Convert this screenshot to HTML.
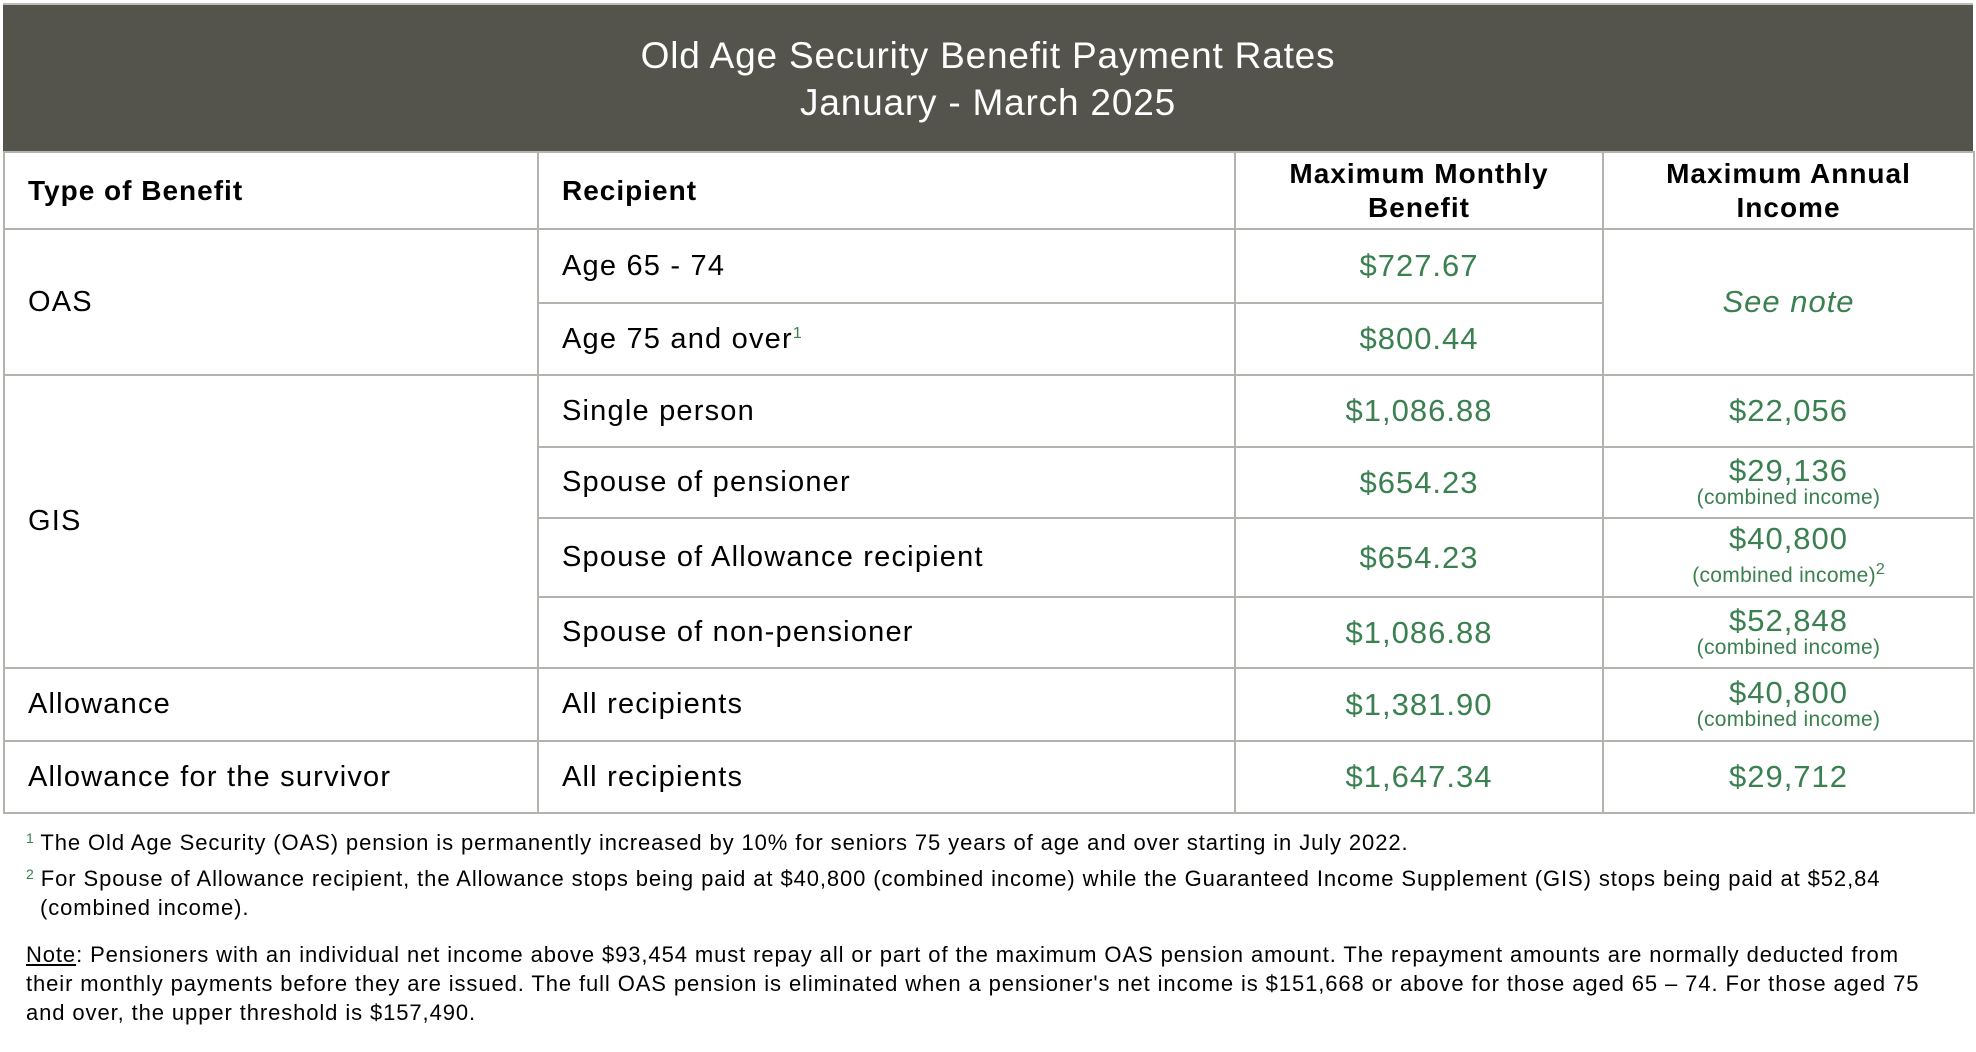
<!DOCTYPE html>
<html><head><meta charset="utf-8"><style>
html,body{margin:0;padding:0;background:#fff;width:1976px;height:1052px;overflow:hidden;font-family:"Liberation Sans",Arial,sans-serif;color:#000}
.wrap{position:absolute;left:3px;top:3px;width:1970px}
.title{height:148px;background:#54544c;color:#fff;text-align:center;font-size:37px;letter-spacing:0.8px;line-height:47px;box-sizing:border-box;padding-top:27px;border-top:2px solid #bdbdb8}
table{border-collapse:collapse;width:1970px;table-layout:fixed}
td{border:2px solid #b4b4ae;font-size:29px;letter-spacing:1.2px;padding:0 0 0 23px;vertical-align:middle;white-space:nowrap}
td.c{text-align:center;padding:0;color:#3a8050;font-size:31px;letter-spacing:1px}
th{border:2px solid #b4b4ae;font-size:28px;letter-spacing:1px;font-weight:bold;text-align:left;padding-left:23px}
th.c{text-align:center;padding:0;line-height:34px}
.sub{font-size:21px;letter-spacing:0.3px;display:block;line-height:24px}
sup{font-size:16px;color:#3a8050;vertical-align:10px;line-height:0;letter-spacing:0}
.fn{position:absolute;left:26px;font-size:22px;letter-spacing:0.9px;line-height:29px;white-space:nowrap}
.fn sup{font-size:14px;vertical-align:7px}
</style></head><body>
<div class="wrap">
<div class="title">Old Age Security Benefit Payment Rates<br>January - March 2025</div>
<table>
<colgroup><col style="width:534px"><col style="width:697px"><col style="width:368px"><col style="width:371px"></colgroup>
<tr style="height:77px"><th>Type of Benefit</th><th>Recipient</th><th class="c">Maximum Monthly<br>Benefit</th><th class="c">Maximum Annual<br>Income</th></tr>
<tr style="height:74px"><td rowspan="2">OAS</td><td>Age 65 - 74</td><td class="c">$727.67</td><td class="c" rowspan="2"><i>See note</i></td></tr>
<tr style="height:72px"><td>Age 75 and over<sup>1</sup></td><td class="c">$800.44</td></tr>
<tr style="height:72px"><td rowspan="4">GIS</td><td>Single person</td><td class="c">$1,086.88</td><td class="c">$22,056</td></tr>
<tr style="height:71px"><td>Spouse of pensioner</td><td class="c">$654.23</td><td class="c" style="line-height:30px">$29,136<span class="sub">(combined income)</span></td></tr>
<tr style="height:79px"><td>Spouse of Allowance recipient</td><td class="c" style="line-height:36px">$654.23</td><td class="c" style="line-height:36px">$40,800<span class="sub" style="line-height:38px">(combined income)<sup style="vertical-align:8px">2</sup></span></td></tr>
<tr style="height:71px"><td>Spouse of non-pensioner</td><td class="c">$1,086.88</td><td class="c" style="line-height:30px">$52,848<span class="sub">(combined income)</span></td></tr>
<tr style="height:73px"><td>Allowance</td><td>All recipients</td><td class="c">$1,381.90</td><td class="c" style="line-height:30px">$40,800<span class="sub">(combined income)</span></td></tr>
<tr style="height:72px"><td>Allowance for the survivor</td><td>All recipients</td><td class="c">$1,647.34</td><td class="c">$29,712</td></tr>
</table>
</div>
<div class="fn" style="top:828px"><sup>1</sup> The Old Age Security (OAS) pension is permanently increased by 10% for seniors 75 years of age and over starting in July 2022.</div>
<div class="fn" style="top:864px"><sup>2</sup> For Spouse of Allowance recipient, the Allowance stops being paid at $40,800 (combined income) while the Guaranteed Income Supplement (GIS) stops being paid at $52,84<br>&nbsp;&nbsp;(combined income).</div>
<div class="fn" style="top:940px"><u>Note</u>: Pensioners with an individual net income above $93,454 must repay all or part of the maximum OAS pension amount. The repayment amounts are normally deducted from<br>their monthly payments before they are issued. The full OAS pension is eliminated when a pensioner's net income is $151,668 or above for those aged 65 – 74. For those aged 75<br>and over, the upper threshold is $157,490.</div>
</body></html>
